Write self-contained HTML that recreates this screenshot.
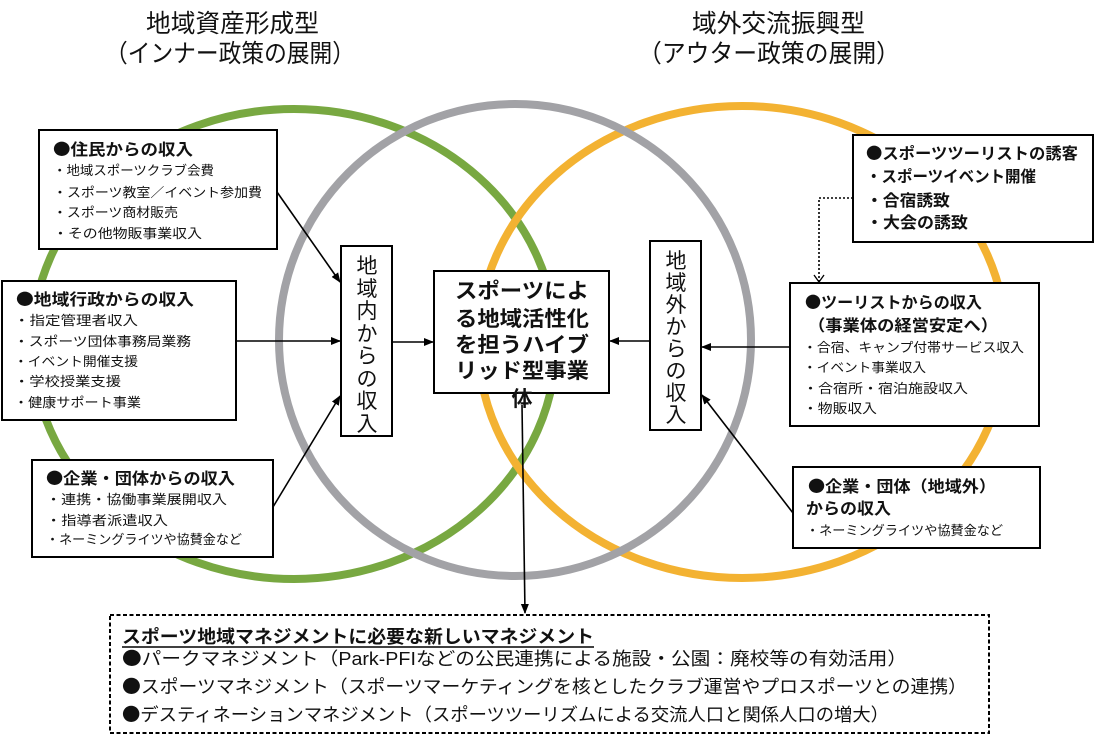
<!DOCTYPE html>
<html><head><meta charset="utf-8"><style>
html,body{margin:0;padding:0;background:#fff;}
svg{display:block;}
text{font-family:"Liberation Sans","Noto Sans CJK JP",sans-serif;fill:#111;}
.b{font-weight:bold;}
.d{font-family:"Noto Sans CJK JP",sans-serif;}
</style></head><body>
<svg width="1095" height="744" viewBox="0 0 1095 744" xmlns="http://www.w3.org/2000/svg">
<defs>
<marker id="ah" markerWidth="10" markerHeight="10" refX="9" refY="5" orient="auto" markerUnits="userSpaceOnUse">
<path d="M0,1 L10,5 L0,9 z" fill="#000"/></marker>
<marker id="oh" markerWidth="12" markerHeight="12" refX="6" refY="11" orient="0" markerUnits="userSpaceOnUse">
<path d="M1,4 L6,11 L11,4" fill="none" stroke="#000" stroke-width="1.3"/></marker>
</defs>

<!-- titles -->
<text x="146" y="32" font-size="25" textLength="173" lengthAdjust="spacingAndGlyphs">地域資産形成型</text>
<text x="105" y="62" font-size="25" textLength="250" lengthAdjust="spacingAndGlyphs">（インナー政策の展開）</text>
<text x="692" y="32" font-size="25" textLength="173" lengthAdjust="spacingAndGlyphs">域外交流振興型</text>
<text x="638" y="62" font-size="25" textLength="262" lengthAdjust="spacingAndGlyphs">（アウター政策の展開）</text>

<!-- circles -->
<ellipse cx="294" cy="344" rx="262" ry="235" fill="none" stroke="#78a841" stroke-width="8"/>
<ellipse cx="742" cy="342" rx="264" ry="236" fill="none" stroke="#f3b232" stroke-width="8"/>
<ellipse cx="515" cy="340" rx="236" ry="236" fill="none" stroke="#a2a2a6" stroke-width="8"/>

<!-- connectors -->
<g stroke="#000" stroke-width="1.6" fill="none">
<line x1="277" y1="192" x2="340" y2="282" marker-end="url(#ah)"/>
<line x1="236" y1="341" x2="340" y2="341" marker-end="url(#ah)"/>
<line x1="273" y1="507" x2="340" y2="396" marker-end="url(#ah)"/>
<line x1="392" y1="342" x2="433" y2="342" marker-end="url(#ah)"/>
<line x1="650" y1="341" x2="610" y2="341" marker-end="url(#ah)"/>
<line x1="790" y1="347" x2="702" y2="347" marker-end="url(#ah)"/>
<line x1="793" y1="513" x2="702" y2="395" marker-end="url(#ah)"/>
<line x1="522" y1="405" x2="525" y2="613" marker-end="url(#ah)"/>
<polyline points="853,198 819,198 819,282" stroke-dasharray="2,2" marker-end="url(#oh)"/>
</g>

<g fill="#fff" stroke="#000" stroke-width="2">
<rect x="39" y="130" width="238" height="119"/>
<rect x="2" y="281" width="234" height="139"/>
<rect x="32" y="460" width="241" height="97"/>
<rect x="341" y="246" width="51" height="190"/>
<rect x="434" y="271" width="175" height="122"/>
<rect x="650" y="241" width="51" height="189"/>
<rect x="853" y="135" width="240" height="107"/>
<rect x="790" y="283" width="249" height="143"/>
<rect x="793" y="467" width="247" height="81"/>
<rect x="110" y="615" width="879" height="118" stroke-dasharray="4,2.5"/>
</g>

<!-- 住民 -->
<text class="b" x="53" y="155" font-size="16" textLength="140" lengthAdjust="spacingAndGlyphs"><tspan class="d">●</tspan>住民からの収入</text>
<g font-size="13">
<text x="53" y="175" textLength="161" lengthAdjust="spacingAndGlyphs">・地域スポーツクラブ会費</text>
<text x="53" y="197" textLength="209" lengthAdjust="spacingAndGlyphs">・スポーツ教室／イベント参加費</text>
<text x="53" y="217" textLength="125" lengthAdjust="spacingAndGlyphs">・スポーツ商材販売</text>
<text x="53" y="238" textLength="149" lengthAdjust="spacingAndGlyphs">・その他物販事業収入</text>
</g>
<!-- 地域行政 -->
<text class="b" x="16" y="305" font-size="16" textLength="178" lengthAdjust="spacingAndGlyphs"><tspan class="d">●</tspan>地域行政からの収入</text>
<g font-size="13">
<text x="14" y="325" textLength="124" lengthAdjust="spacingAndGlyphs">・指定管理者収入</text>
<text x="14" y="346" textLength="177" lengthAdjust="spacingAndGlyphs">・スポーツ団体事務局業務</text>
<text x="14" y="366" textLength="124" lengthAdjust="spacingAndGlyphs">・イベント開催支援</text>
<text x="14" y="386" textLength="107" lengthAdjust="spacingAndGlyphs">・学校授業支援</text>
<text x="14" y="407" textLength="127" lengthAdjust="spacingAndGlyphs">・健康サポート事業</text>
</g>
<!-- 企業 -->
<text class="b" x="46" y="484" font-size="16" textLength="189" lengthAdjust="spacingAndGlyphs"><tspan class="d">●</tspan>企業・団体からの収入</text>
<g font-size="13">
<text x="46" y="504" textLength="181" lengthAdjust="spacingAndGlyphs">・連携・協働事業展開収入</text>
<text x="46" y="525" textLength="122" lengthAdjust="spacingAndGlyphs">・指導者派遣収入</text>
<text x="46" y="544" textLength="196" lengthAdjust="spacingAndGlyphs">・ネーミングライツや協賛金など</text>
</g>

<!-- vertical -->
<g font-size="21" text-anchor="middle">
<text x="367" y="273">地</text><text x="367" y="296">域</text><text x="367" y="318">内</text><text x="367" y="341">か</text><text x="367" y="363">ら</text><text x="367" y="386">の</text><text x="367" y="408">収</text><text x="367" y="431">入</text>
<text x="676" y="268">地</text><text x="676" y="290">域</text><text x="676" y="312">外</text><text x="676" y="334">か</text><text x="676" y="356">ら</text><text x="676" y="378">の</text><text x="676" y="400">収</text><text x="676" y="422">入</text>
</g>

<!-- center -->
<g font-size="21">
<text class="b" x="455" y="298" textLength="134" lengthAdjust="spacingAndGlyphs">スポーツによ</text>
<text class="b" x="455" y="326" textLength="134" lengthAdjust="spacingAndGlyphs">る地域活性化</text>
<text class="b" x="455" y="352" textLength="134" lengthAdjust="spacingAndGlyphs">を担うハイブ</text>
<text class="b" x="455" y="378" textLength="134" lengthAdjust="spacingAndGlyphs">リッド型事業</text>
<text class="b" x="522" y="406" text-anchor="middle">体</text>
</g>

<!-- right -->
<g font-size="16">
<text class="b" x="866" y="159" textLength="212" lengthAdjust="spacingAndGlyphs"><tspan class="d">●</tspan>スポーツツーリストの誘客</text>
<text class="b" x="866" y="182" textLength="170" lengthAdjust="spacingAndGlyphs">・スポーツイベント開催</text>
<text class="b" x="866" y="206" textLength="84" lengthAdjust="spacingAndGlyphs">・合宿誘致</text>
<text class="b" x="866" y="228" textLength="102" lengthAdjust="spacingAndGlyphs">・大会の誘致</text>
<text class="b" x="805" y="308" textLength="177" lengthAdjust="spacingAndGlyphs"><tspan class="d">●</tspan>ツーリストからの収入</text>
<text class="b" x="808" y="331" textLength="190" lengthAdjust="spacingAndGlyphs">（事業体の経営安定へ）</text>
<text class="b" x="808" y="492" textLength="188" lengthAdjust="spacingAndGlyphs"><tspan class="d">●</tspan>企業・団体（地域外）</text>
<text class="b" x="806" y="514" textLength="85" lengthAdjust="spacingAndGlyphs">からの収入</text>
</g>
<g font-size="13">
<text x="803" y="352" textLength="221" lengthAdjust="spacingAndGlyphs">・合宿、キャンプ付帯サービス収入</text>
<text x="803" y="372" textLength="123" lengthAdjust="spacingAndGlyphs">・イベント事業収入</text>
<text x="803" y="393" textLength="165" lengthAdjust="spacingAndGlyphs">・合宿所・宿泊施設収入</text>
<text x="803" y="413" textLength="74" lengthAdjust="spacingAndGlyphs">・物販収入</text>
<text x="806" y="535" textLength="197" lengthAdjust="spacingAndGlyphs">・ネーミングライツや協賛金など</text>
</g>

<!-- bottom -->
<text class="b" x="122" y="643" font-size="18" textLength="472" lengthAdjust="spacingAndGlyphs">スポーツ地域マネジメントに必要な新しいマネジメント</text>
<line x1="122" y1="647" x2="594" y2="647" stroke="#000" stroke-width="1.5"/>
<g font-size="18">
<text x="122" y="665" textLength="785" lengthAdjust="spacingAndGlyphs"><tspan class="d">●</tspan>パークマネジメント（Park-PFIなどの公民連携による施設・公園：廃校等の有効活用）</text>
<text x="122" y="693" textLength="845" lengthAdjust="spacingAndGlyphs"><tspan class="d">●</tspan>スポーツマネジメント（スポーツマーケティングを核としたクラブ運営やプロスポーツとの連携）</text>
<text x="122" y="721" textLength="767" lengthAdjust="spacingAndGlyphs"><tspan class="d">●</tspan>デスティネーションマネジメント（スポーツツーリズムによる交流人口と関係人口の増大）</text>
</g>
</svg>
</body></html>
